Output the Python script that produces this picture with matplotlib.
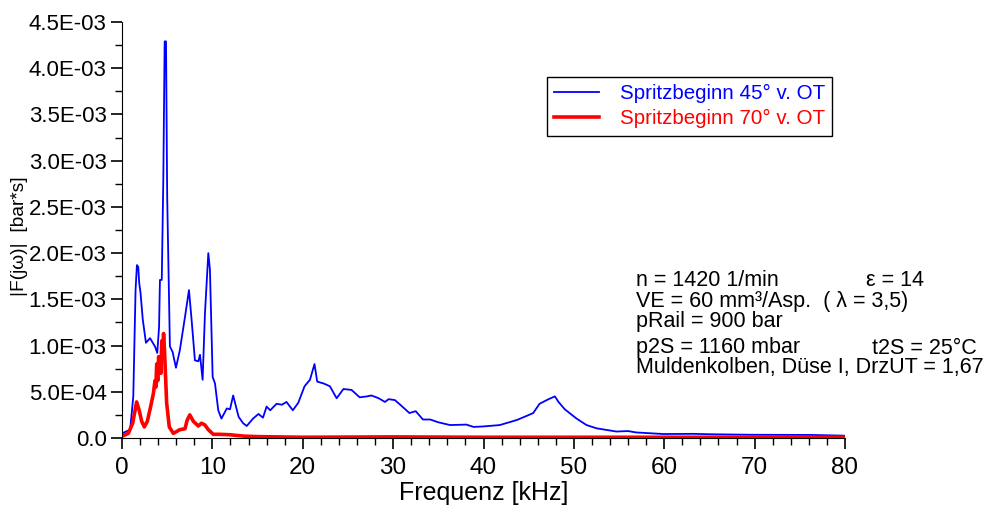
import numpy as np
import matplotlib.pyplot as plt
from matplotlib.ticker import MultipleLocator, FuncFormatter

plt.rcParams['font.family'] = ['Liberation Sans', 'DejaVu Sans']

# Spritzbeginn 45° v. OT (blue), frequency in kHz, amplitude in 1E-03 bar*s
f45 = [0.0, 0.9, 1.25, 1.5, 1.65, 1.8, 1.9, 2.05, 2.3, 2.65, 3.1, 3.65, 3.9, 4.1,
       4.2, 4.4, 4.57, 4.72, 4.8, 4.87, 5.0, 5.3, 5.6, 5.97, 6.4, 6.97, 7.41, 7.7,
       8.07, 8.45, 8.63, 8.92, 9.18, 9.55, 9.73, 10.03, 10.29, 10.65, 11.0, 11.6,
       11.95, 12.3, 12.9, 13.4, 13.8, 14.5, 15.1, 15.6, 16.0, 16.4, 17.1, 17.7,
       18.2, 18.9, 19.5, 20.2, 20.8, 21.3, 21.6, 22.3, 23.0, 23.75, 24.5, 25.4,
       26.3, 27.1, 27.6, 28.4, 29.1, 29.5, 30.2, 30.9, 31.8, 32.5, 33.3, 34.1,
       35.0, 36.3, 38.1, 38.9, 40.0, 41.8, 43.7, 44.8, 45.5, 46.2, 47.2, 47.9,
       48.3, 49.0, 50.3, 51.4, 52.5, 54.7, 56.0, 56.9, 59.9, 63.2, 65.4, 69.8,
       76.4, 80.0]
a45 = [0.05, 0.09, 0.45, 1.6, 1.87, 1.85, 1.68, 1.57, 1.28, 1.03, 1.08, 0.99, 0.92, 1.2,
       1.71, 1.71, 2.79, 4.29, 4.29, 4.29, 2.61, 0.99, 0.93, 0.76, 0.95, 1.31, 1.60, 1.28,
       0.84, 0.83, 0.90, 0.63, 1.35, 2.0, 1.82, 0.66, 0.59, 0.30, 0.21, 0.32,
       0.31, 0.46, 0.23, 0.16, 0.13, 0.21, 0.26, 0.22, 0.34, 0.30, 0.37, 0.36,
       0.39, 0.30, 0.38, 0.56, 0.63, 0.80, 0.61, 0.59, 0.56, 0.43, 0.53, 0.52,
       0.44, 0.45, 0.46, 0.43, 0.39, 0.42, 0.41, 0.35, 0.27, 0.29, 0.20, 0.20,
       0.17, 0.14, 0.145, 0.12, 0.125, 0.14, 0.195, 0.24, 0.27, 0.37, 0.42, 0.45,
       0.39, 0.31, 0.21, 0.14, 0.105, 0.07, 0.075, 0.06, 0.043, 0.045, 0.04, 0.035,
       0.033, 0.025]

# Spritzbeginn 70° v. OT (red)
f70 = [0.0, 0.7, 1.18, 1.62, 1.9, 2.18, 2.47, 2.8, 3.17, 3.47, 3.65, 3.75, 3.84, 3.95,
       4.05, 4.2, 4.3, 4.4, 4.5, 4.6, 4.7, 4.94, 5.23, 5.68, 6.4, 6.97, 7.2, 7.5,
       7.9, 8.45, 8.8, 9.18, 9.55, 10.1, 10.8, 11.95, 13.5, 15.0, 20.0, 30.0, 40.0,
       50.0, 60.0, 70.0, 80.0]
a70 = [0.02, 0.05, 0.16, 0.39, 0.30, 0.18, 0.12, 0.18, 0.34, 0.48, 0.62, 0.55, 0.80, 0.62,
       0.88, 0.85, 0.70, 1.05, 0.90, 1.13, 0.95, 0.38, 0.12, 0.05, 0.09, 0.10, 0.19, 0.25,
       0.18, 0.13, 0.16, 0.14, 0.09, 0.04, 0.04, 0.035, 0.02, 0.015, 0.008, 0.012, 0.008,
       0.008, 0.008, 0.008, 0.008]

labels = ['Spritzbeginn 45° v. OT', 'Spritzbeginn 70° v. OT']

W, H = 1003, 509
fig = plt.figure(figsize=(W / 100, H / 100), dpi=100)
ax = fig.add_axes([122 / W, 1 - 438 / H, (845 - 122) / W, (438 - 22) / H])

ax.plot(f45, np.array(a45) * 1e-3, color='#0000ff', lw=1.3, label=labels[0])
ax.plot(f70, np.array(a70) * 1e-3, color='#ff0000', lw=2.6, label=labels[1])

ax.set_xlim(0, 80)
ax.set_ylim(0, 4.5e-3)
ax.xaxis.set_major_locator(MultipleLocator(10))
ax.xaxis.set_minor_locator(MultipleLocator(2))
ax.yaxis.set_major_locator(MultipleLocator(0.5e-3))
ax.yaxis.set_minor_locator(MultipleLocator(0.25e-3))
ax.yaxis.set_major_formatter(FuncFormatter(lambda v, p: '0.0' if abs(v) < 1e-9 else '%.1E' % v))

for s in ['top', 'right']:
    ax.spines[s].set_visible(False)
ax.tick_params(which='major', length=8, width=1.2, direction='out')
ax.tick_params(which='minor', length=5, width=1.0, direction='out')
ax.tick_params(axis='x', labelsize=17.5, pad=6)
ax.tick_params(axis='y', labelsize=16, pad=3)

ax.set_xlabel('Frequenz [kHz]', fontsize=18, labelpad=1)
fig.text(20 / W, 1 - 236 / H, '|F(jω)|  [bar*s]', rotation=90, fontsize=13.8,
         ha='center', va='center')

leg = ax.legend(loc='upper left', bbox_to_anchor=(547 / W, 1 - 77 / H),
                bbox_transform=fig.transFigure, fontsize=14.8, fancybox=False,
                edgecolor='black', framealpha=1, labelcolor='linecolor',
                handlelength=2.2, borderpad=0.35, labelspacing=0.3,
                borderaxespad=0, handletextpad=1.0)
leg.get_frame().set_linewidth(1.0)

notes = [
    (636, 281, 'n = 1420 1/min'),
    (866, 281, 'ε = 14'),
    (636, 301, 'VE = 60 mm³/Asp.  ( λ = 3,5)'),
    (636, 322, 'pRail = 900 bar'),
    (636, 348, 'p2S = 1160 mbar'),
    (872, 348, 't2S = 25°C'),
    (636, 368, 'Muldenkolben, Düse I, DrzUT = 1,67'),
]
for x, y, t in notes:
    fig.text(x / W, 1 - y / H, t, fontsize=15.5, ha='left', va='center')

fig.savefig('out.png', dpi=100)
